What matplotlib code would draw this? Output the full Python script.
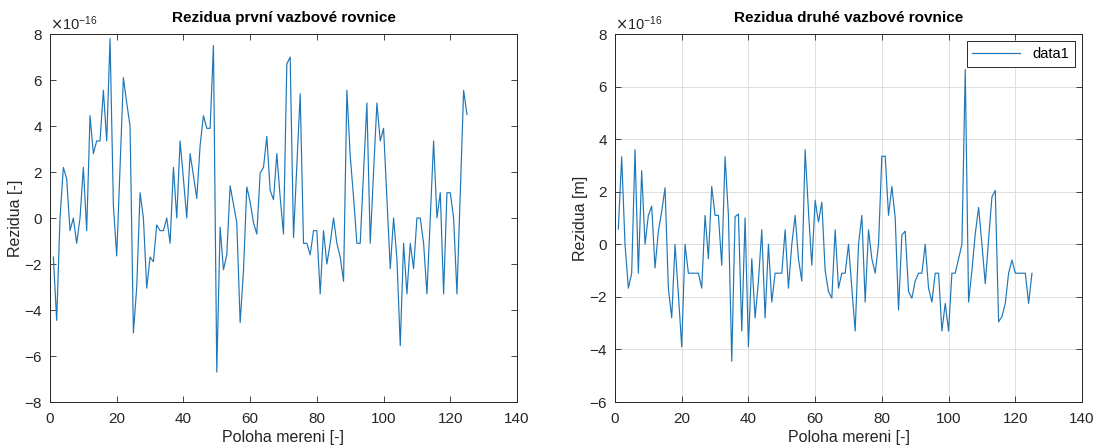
import numpy as np
import matplotlib
matplotlib.use("Agg")
import matplotlib.pyplot as plt
from matplotlib.ticker import ScalarFormatter

plt.rcParams['font.family'] = ['Liberation Sans', 'DejaVu Sans']
plt.rcParams['axes.unicode_minus'] = False

# poloha mereni 1..125
poloha = np.arange(1, 126)

# rezidua prvni rovnice (x 1e-16)
rez1 = [-1.7, -4.45, 0.0, 2.2, 1.7, -0.55, 0.0, -1.1, 0.0, 2.2,
	-0.55, 4.45, 2.8, 3.35, 3.35, 5.55, 3.35, 7.8, 0.55, -1.65,
	2.2, 6.1, 5.0, 4.0, -5.0, -3.0, 1.1, 0.0, -3.05, -1.7,
	-1.9, -0.3, -0.55, -0.55, 0.0, -1.1, 2.2, 0.0, 3.35, 1.7,
	0.0, 2.8, 1.85, 0.85, 3.15, 4.45, 3.9, 3.9, 7.5, -6.7,
	-0.4, -2.25, -1.6, 1.4, 0.6, -0.2, -4.55, -2.3, 1.35, 0.7,
	-0.2, -0.7, 1.95, 2.2, 3.55, 1.2, 0.8, 2.8, 0.9, -0.7,
	6.7, 7.0, -0.85, 2.3, 5.4, -1.1, -1.1, -1.6, -0.55, -0.55,
	-3.3, -0.55, -2.0, -1.1, 0.0, -1.1, -1.7, -2.75, 5.55, 2.7,
	0.9, -1.1, -1.1, 2.0, 5.0, -1.1, 2.0, 5.0, 3.35, 3.9,
	0.85, -2.2, 0.0, -1.75, -5.55, -1.1, -3.3, -1.1, -2.2, 0.0,
	0.0, -1.1, -3.3, 0.0, 3.35, 0.0, 1.1, -3.3, 1.1, 1.1,
	0.0, -3.3, 1.1, 5.55, 4.5]

# rezidua druhe rovnice (x 1e-16)
rez2 = [0.58, 3.33, 0.0, -1.67, -1.1, 3.6, -1.1, 2.8, 0.0, 1.1,
	1.45, -0.9, 0.5, 1.25, 2.15, -1.67, -2.8, 0.0, -1.9, -3.9,
	0.0, -1.1, -1.1, -1.1, -1.1, -1.67, 1.1, -0.55, 2.2, 1.1,
	1.1, -0.8, 3.33, 1.1, -4.45, 1.05, 1.15, -3.3, 1.0, -3.9,
	-0.55, -2.8, -1.4, 0.55, -2.8, 0.0, -2.2, -1.1, -1.1, -1.1,
	0.55, -1.67, 0.0, 1.1, -0.55, -1.4, 3.6, 1.25, -0.8, 1.67,
	0.85, 1.6, -1.0, -1.8, -2.05, 0.55, -1.67, -1.1, -1.1, 0.0,
	-1.67, -3.3, 0.0, 1.1, -2.2, 0.55, -0.55, -1.1, 0.0, 3.35,
	3.35, 1.1, 2.2, 1.0, -2.5, 0.35, 0.5, -1.8, -2.05, -1.4,
	-1.1, -1.1, 0.0, -1.67, -2.2, -1.1, -1.1, -3.3, -2.25, -3.3,
	-1.1, -1.1, -0.55, 0.0, 6.65, -2.2, -1.0, 0.4, 1.4, 0.0,
	-1.5, 0.2, 1.8, 2.05, -2.95, -2.75, -2.25, -1.1, -0.6, -1.1,
	-1.1, -1.1, -1.1, -2.25, -1.1]

modra = '#1f77b8'
seda = '#262626'

fig = plt.figure(figsize=(10.98, 4.48), dpi=100)
ax1 = fig.add_axes([50/1098, 46/448, 467/1098, 368/448])
ax2 = fig.add_axes([615/1098, 46/448, 467/1098, 368/448])

def uprav(ax, ymin, ymax, ylab, title):
	ax.set_xlim(0, 140)
	ax.set_ylim(ymin*1e-16, ymax*1e-16)
	ax.set_xticks(np.arange(0, 141, 20))
	ax.set_yticks(np.arange(ymin, ymax+1, 2)*1e-16)
	fmt = ScalarFormatter(useMathText=True)
	fmt.set_powerlimits((0, 0))
	ax.yaxis.set_major_formatter(fmt)
	ax.yaxis.get_offset_text().set_fontsize(10.5)
	ax.yaxis.get_offset_text().set_color(seda)
	ax.tick_params(direction='in', top=True, right=True, length=4,
		width=0.6, colors=seda, labelsize=11)
	ax.tick_params(axis='x', pad=7)
	ax.tick_params(axis='y', pad=5)
	for s in ax.spines.values():
		s.set_color(seda)
		s.set_linewidth(0.7)
	ax.set_xlabel('Poloha mereni [-]', fontsize=11.5, color=seda, labelpad=3)
	ax.set_ylabel(ylab, fontsize=11.5, color=seda, labelpad=1)
	ax.set_title(title, fontsize=11, fontweight='bold', pad=9)

ax1.plot(poloha, np.array(rez1)*1e-16, color=modra, linewidth=0.85)
uprav(ax1, -8, 8, 'Rezidua [-]', 'Rezidua první vazbové rovnice')

ax2.plot(poloha, np.array(rez2)*1e-16, color=modra, linewidth=0.85, label='data1')
uprav(ax2, -6, 8, 'Rezidua [m]', 'Rezidua druhé vazbové rovnice')
ax2.grid(True, color='#dedede', linewidth=0.7)
ax2.set_axisbelow(True)
leg = ax2.legend(loc='upper right', fancybox=False, framealpha=1,
	edgecolor=seda, fontsize=10.5, handlelength=3.3, borderaxespad=0.5)
leg.get_frame().set_linewidth(0.7)

fig.savefig('out.png', dpi=100)
